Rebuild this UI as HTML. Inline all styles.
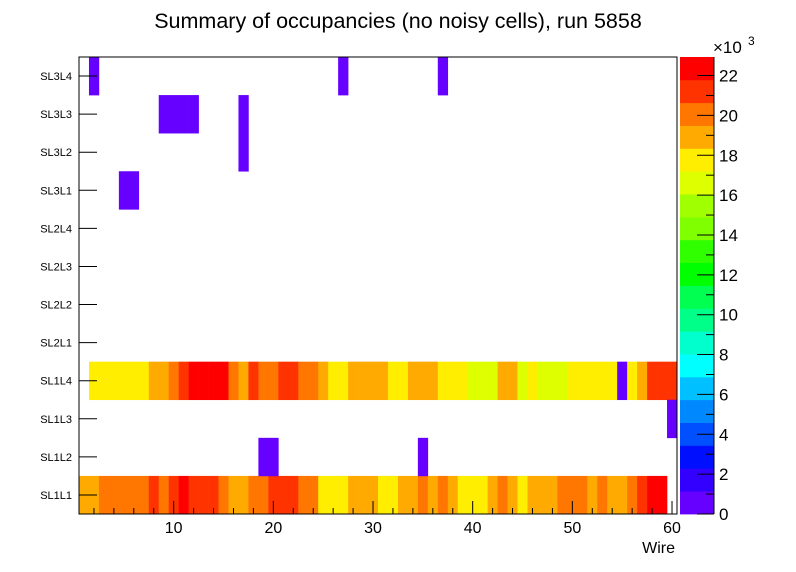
<!DOCTYPE html>
<html><head><meta charset="utf-8"><style>
body{margin:0;background:#fff}
svg{display:block;font-family:"Liberation Sans",sans-serif}
</style></head><body>
<svg id="c" width="796" height="572" viewBox="0 0 796 572">
<text x="398" y="28" font-size="21.5" text-anchor="middle">Summary of occupancies (no noisy cells), run 5858</text>
</svg>
<script>
const layers = ["SL1L1","SL1L2","SL1L3","SL1L4","SL2L1","SL2L2","SL2L3","SL2L4","SL3L1","SL3L2","SL3L3","SL3L4"];
const xTicks = [10,20,30,40,50,60];
const zTicks = [0,2,4,6,8,10,12,14,16,18,20,22];
// values in thousands, wires 1..60
const sl1l1 = [19,19,20.2,20.2,20.2,20.2,20.2,21.3,20.2,21.3,22.5,21.3,21.3,21.3,20.2,19,19,20.2,20.2,21.3,21.3,21.3,20.2,20.2,17.8,17.8,17.8,19,19,19,17.8,17.8,19,19,20.2,19,20.2,19,17.8,17.8,17.8,19,20.2,19,17.8,19,19,19,20.2,20.2,20.2,19,20.2,19,19,20.2,21.3,22.5,22.5,0];
const sl1l4 = [0,17.8,17.8,17.8,17.8,17.8,17.8,19,19,20.2,21.3,22.5,22.5,22.5,22.5,20.2,19,21.3,20.2,20.2,21.3,21.3,20.2,20.2,19,17.8,17.8,19,19,19,19,17.8,17.8,19,19,19,17.8,17.8,17.8,16.6,16.6,16.6,19,19,16.6,17.8,16.6,16.6,16.6,17.8,17.8,17.8,17.8,17.8,0.5,17.8,19,21.3,21.3,21.3];
// sparse low-occupancy cells: [layerIndex, wire, value]
const sparseCells = [[1,19,0.5],[1,20,0.5],[1,35,0.5],[2,60,0.5],[8,5,0.5],[8,6,0.5],[9,17,0.5],[10,9,0.5],[10,10,0.5],[10,11,0.5],[10,12,0.5],[10,17,0.5],[11,2,0.5],[11,27,0.5],[11,37,0.5]];
const palette = ["#6600ff","#3300ff","#0010ff","#0050ff","#0088ff","#00c0ff","#00ffff","#00ffcc","#00ff88","#00ff50","#00ff00","#30ff00","#80ff00","#a0ff00","#ddff00","#ffee00","#ffaa00","#ff7700","#ff3300","#ff0000"];

const NS="http://www.w3.org/2000/svg";
const svg=document.getElementById('c');
const X0=79,X1=677,Y0=57,Y1=514,ZMAX=22.93;
const xs=v=>X0+(v-0.5)/60*(X1-X0);
const rowH=(Y1-Y0)/layers.length;
const ys=i=>Y1-(i+1)*rowH;
const zs=v=>Y1-v/ZMAX*(Y1-Y0);
const col=v=>palette[Math.min(19,Math.floor(v/ZMAX*20))];
function mk(t,a,p){const e=document.createElementNS(NS,t);for(const k in a)e.setAttribute(k,a[k]);(p||svg).appendChild(e);return e;}
function cell(li,w,v){if(v<=0)return;
 const r=mk('rect',{x:xs(w-0.5),y:ys(li),width:xs(w+0.5)-xs(w-0.5)+0.3,height:rowH+0.3,fill:col(v)});
 
 }
sl1l1.forEach((v,i)=>cell(0,i+1,v));
sl1l4.forEach((v,i)=>cell(3,i+1,v));
sparseCells.forEach(c=>cell(c[0],c[1],c[2]));
const fr=mk('rect',{x:X0,y:Y0,width:X1-X0,height:Y1-Y0,fill:'none',stroke:'#000','stroke-width':1});


layers.forEach((l,i)=>{const yc=ys(i)+rowH/2;
 mk('line',{x1:X0,x2:X0+18,y1:yc,y2:yc,stroke:'#000'});
 const t=mk('text',{x:72,y:yc+4,'font-size':11,'text-anchor':'end'});t.textContent=l;
 
 });
for(let w=2;w<=60;w+=2){const xx=xs(w);
 mk('line',{x1:xx,x2:xx,y1:Y1,y2:Y1-(w%10==0?13:6),stroke:'#000'});}
xTicks.forEach(v=>{const xx=xs(v);
 const t=mk('text',{x:xx,y:533,'font-size':16,'text-anchor':'middle'});t.textContent=v;
 
 });
const xl=mk('text',{x:675,y:553,'font-size':16,'text-anchor':'end'});xl.textContent='Wire';


// palette
palette.forEach((c,i)=>{const r=mk('rect',{x:680,y:zs((i+1)*ZMAX/20),width:34,height:(Y1-Y0)/20+0.4,fill:c});
 
 });
mk('line',{x1:714,x2:714,y1:Y0,y2:Y1,stroke:'#000'});
zTicks.forEach(v=>{const y=zs(v);mk('line',{x1:697,x2:714,y1:y,y2:y,stroke:'#000'});
 const t=mk('text',{x:719,y:y+6,'font-size':17});t.textContent=v;
 
 });
for(let v=1;v<23;v+=2){const y=zs(v);mk('line',{x1:706,x2:714,y1:y,y2:y,stroke:'#000'});}
const ex=mk('text',{x:713,y:53,'font-size':17});ex.textContent='×10';


const e3=mk('text',{x:748,y:45,'font-size':12});e3.textContent='3';


</script>
</body></html>
